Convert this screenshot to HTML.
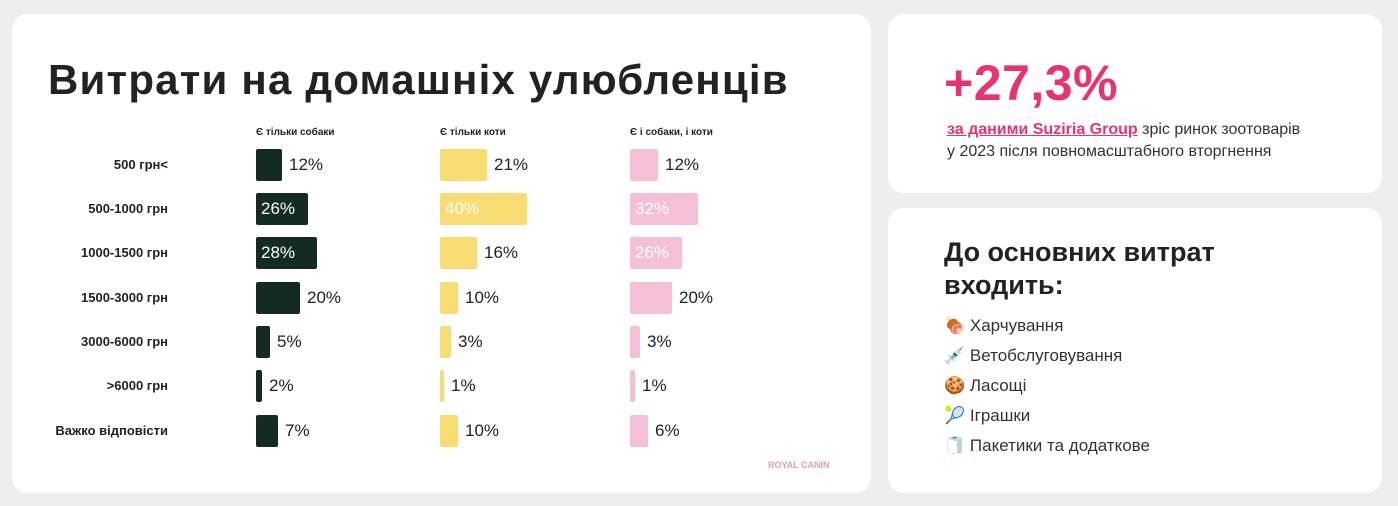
<!DOCTYPE html>
<html><head><meta charset="utf-8"><style>
body{margin:0;width:1398px;height:506px;background:#eeeeee;font-family:"Liberation Sans","DejaVu Sans",sans-serif;position:relative;overflow:hidden}
.card{position:absolute;background:#fff;border-radius:16px}
.t{position:absolute;white-space:nowrap}
.bar{position:absolute;height:32px;border-radius:2px}
.lbl{position:absolute;font-size:17px;color:#222;line-height:32px}
.row{position:absolute;right:1230px;font-size:13px;font-weight:bold;color:#222;white-space:nowrap;line-height:32px}
.hd{position:absolute;top:127px;font-size:10px;font-weight:bold;color:#222}
.li{position:absolute;left:944px;font-size:17px;color:#333}
</style></head><body>
<div class="card" style="left:12px;top:14px;width:859px;height:479px"></div>
<div class="card" style="left:888px;top:14px;width:494px;height:179px"></div>
<div class="card" style="left:888px;top:208px;width:494px;height:285px"></div>
<div class="t" style="left:48px;top:56px;font-size:42px;font-weight:bold;color:#222;letter-spacing:1.2px">Витрати на домашніх улюбленців</div>
<div class="hd" style="left:256px">Є тільки собаки</div>
<div class="hd" style="left:440px">Є тільки коти</div>
<div class="hd" style="left:630px">Є і собаки, і коти</div>
<div id="rows"></div>
<div class="t" style="left:768px;top:460px;font-size:9px;color:#e0a0a8;font-weight:bold">ROYAL CANIN</div>
<div class="t" style="left:944px;top:54px;font-size:50px;font-weight:bold;color:#e8336e;letter-spacing:0.5px">+27,3%</div>
<div class="t" style="left:947px;top:119px;font-size:16px;color:#333;line-height:22px"><b style="color:#e8336e;text-decoration:underline">за даними Suziria Group</b> зріс ринок зоотоварів<br>у 2023 після повномасштабного вторгнення</div>
<div class="t" style="left:944px;top:236px;font-size:27px;font-weight:bold;color:#222;line-height:33px">До основних витрат<br>входить:</div>
<div class="li" style="top:316px">🍖 Харчування</div>
<div class="li" style="top:346px">💉 Ветобслуговування</div>
<div class="li" style="top:376px">🍪 Ласощі</div>
<div class="li" style="top:406px">🎾 Іграшки</div>
<div class="li" style="top:436px">🧻 Пакетики та додаткове</div>
<script>
var rows=["500 грн<","500-1000 грн","1000-1500 грн","1500-3000 грн","3000-6000 грн",">6000 грн","Важко відповісти"];
var ys=[149,193,237,282,326,370,415];
var cols=[[256,"#132b20",[12,26,28,20,5,2,7],[26,52,61,44,14,6,22],[0,1,1,0,0,0,0]],
[440,"#f8dd72",[21,40,16,10,3,1,10],[47,87,37,18,11,4,18],[0,1,0,0,0,0,0]],
[630,"#f5c0d6",[12,32,26,20,3,1,6],[28,68,52,42,10,5,18],[0,1,1,0,0,0,0]]];
var h="";
rows.forEach(function(r,i){h+='<div class="row" style="top:'+ys[i]+'px">'+r+'</div>';});
cols.forEach(function(c){for(var i=0;i<7;i++){
h+='<div class="bar" style="left:'+c[0]+'px;top:'+ys[i]+'px;width:'+c[3][i]+'px;background:'+c[1]+'"></div>';
if(c[4][i])h+='<div class="lbl" style="left:'+(c[0]+5)+'px;top:'+ys[i]+'px;color:#fff">'+c[2][i]+'%</div>';
else h+='<div class="lbl" style="left:'+(c[0]+c[3][i]+7)+'px;top:'+ys[i]+'px">'+c[2][i]+'%</div>';}});
document.getElementById("rows").innerHTML=h;
</script>
</body></html>
